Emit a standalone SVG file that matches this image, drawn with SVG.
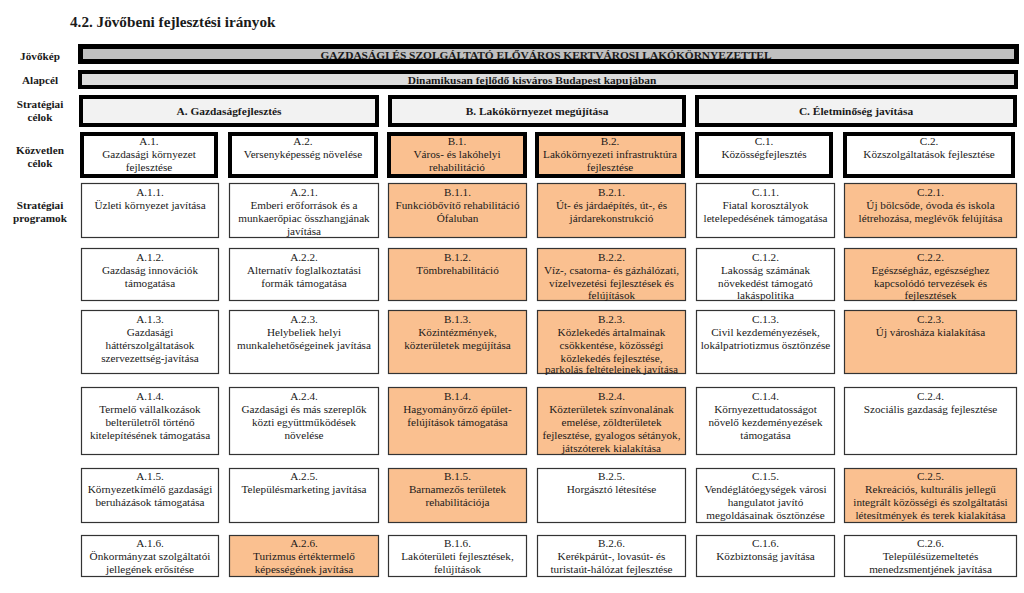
<svg xmlns="http://www.w3.org/2000/svg" width="1024" height="593" viewBox="0 0 1024 593" font-family="'Liberation Serif', 'DejaVu Serif', serif">
<style>
text{font-family:'Liberation Serif','DejaVu Serif',serif;fill:#1a1a1a;text-anchor:middle}
.title{font-size:15.2px;font-weight:bold;text-anchor:start}
.lbl{font-size:11.2px;font-weight:bold}
.hb{font-size:11.4px;font-weight:bold}
.t{font-size:11.2px}
.vis{fill:#c0c0c0;stroke:#000;stroke-width:5}
.alap{fill:#dcdcdc;stroke:#000;stroke-width:4}
.sc{fill:#f2f2f2;stroke:#000;stroke-width:4}
.kc{fill:#fff;stroke:#000;stroke-width:4}
.kc.o{fill:#fac090}
.p{fill:#fff;stroke:#333;stroke-width:1.2}
.p.o{fill:#fac090}
</style>
<rect width="1024" height="593" fill="#fff"/>
<text class="title" x="70" y="27">4.2. Jövőbeni fejlesztési irányok</text>
<g id="row-labels">
<text class="lbl" x="40" y="60">Jövőkép</text>
<text class="lbl" x="40" y="84">Alapcél</text>
<text class="lbl" x="40" y="108">Stratégiai</text><text class="lbl" x="40" y="121">célok</text>
<text class="lbl" x="40" y="154">Közvetlen</text><text class="lbl" x="40" y="167">célok</text>
<text class="lbl" x="40" y="209">Stratégiai</text><text class="lbl" x="40" y="222">programok</text>
</g>
<g id="jovokep"><rect class="vis" x="80.5" y="46.5" width="936" height="15"/><text class="hb" x="546" y="58.5">GAZDASÁGI ÉS SZOLGÁLTATÓ ELŐVÁROS KERTVÁROSI LAKÓKÖRNYEZETTEL</text></g>
<g id="alapcel"><rect class="alap" x="80" y="72" width="936" height="15"/><text class="hb" x="532" y="83.5">Dinamikusan fejlődő kisváros Budapest kapujában</text></g>
<g id="A"><rect class="sc" x="81" y="97" width="296" height="28"/><text class="hb" x="229" y="115">A. Gazdaságfejlesztés</text></g>
<g id="B"><rect class="sc" x="390" y="97" width="294" height="28"/><text class="hb" x="537" y="115">B. Lakókörnyezet megújítása</text></g>
<g id="C"><rect class="sc" x="697" y="97" width="318" height="28"/><text class="hb" x="856" y="115">C. Életminőség javítása</text></g>

<g id="A1"><rect class="kc" x="82" y="134" width="134" height="42"/><text class="t" x="149" y="145">A.1.</text><text class="t" x="149" y="158">Gazdasági környezet</text><text class="t" x="149" y="171">fejlesztése</text></g>
<g id="A2"><rect class="kc" x="230" y="134" width="146" height="42"/><text class="t" x="303" y="145">A.2.</text><text class="t" x="303" y="158">Versenyképesség növelése</text></g>
<g id="B1"><rect class="kc o" x="389" y="134" width="136" height="42"/><text class="t" x="457" y="145">B.1.</text><text class="t" x="457" y="158">Város- és lakóhelyi</text><text class="t" x="457" y="171">rehabilitáció</text></g>
<g id="B2"><rect class="kc o" x="537" y="134" width="146" height="42"/><text class="t" x="610" y="145">B.2.</text><text class="t" x="610" y="158">Lakókörnyezeti infrastruktúra</text><text class="t" x="610" y="171">fejlesztése</text></g>
<g id="C1"><rect class="kc" x="697" y="134" width="134" height="42"/><text class="t" x="764" y="145">C.1.</text><text class="t" x="764" y="158">Közösségfejlesztés</text></g>
<g id="C2"><rect class="kc" x="845" y="134" width="168" height="42"/><text class="t" x="929" y="145">C.2.</text><text class="t" x="929" y="158">Közszolgáltatások fejlesztése</text></g>

<!-- row 1: y 183-237 -->
<g id="A11"><rect class="p" x="81.5" y="183.5" width="137" height="54"/><text class="t" x="150" y="195.5">A.1.1.</text><text class="t" x="150" y="208.5">Üzleti környezet javítása</text></g>
<g id="A21"><rect class="p" x="229.5" y="183.5" width="149" height="54"/><text class="t" x="304" y="195.5">A.2.1.</text><text class="t" x="304" y="208.5">Emberi erőforrások és a</text><text class="t" x="304" y="221.5">munkaerőpiac összhangjának</text><text class="t" x="304" y="234.5">javítása</text></g>
<g id="B11"><rect class="p o" x="388.5" y="183.5" width="138" height="54"/><text class="t" x="457.5" y="195.5">B.1.1.</text><text class="t" x="457.5" y="208.5">Funkcióbővítő rehabilitáció</text><text class="t" x="457.5" y="221.5">Ófaluban</text></g>
<g id="B21"><rect class="p o" x="537.5" y="183.5" width="148" height="54"/><text class="t" x="611.5" y="195.5">B.2.1.</text><text class="t" x="611.5" y="208.5">Út- és járdaépítés, út-, és</text><text class="t" x="611.5" y="221.5">járdarekonstrukció</text></g>
<g id="C11"><rect class="p" x="696.5" y="183.5" width="138" height="54"/><text class="t" x="765.5" y="195.5">C.1.1.</text><text class="t" x="765.5" y="208.5">Fiatal korosztályok</text><text class="t" x="765.5" y="221.5">letelepedésének támogatása</text></g>
<g id="C21"><rect class="p o" x="844.5" y="183.5" width="172" height="54"/><text class="t" x="930.5" y="195.5">C.2.1.</text><text class="t" x="930.5" y="208.5">Új bölcsőde, óvoda és iskola</text><text class="t" x="930.5" y="221.5">létrehozása, meglévők felújítása</text></g>

<!-- row 2: y 248-300 -->
<g id="A12"><rect class="p" x="81.5" y="248.5" width="137" height="52"/><text class="t" x="150" y="260.5">A.1.2.</text><text class="t" x="150" y="273.5">Gazdaság innovációk</text><text class="t" x="150" y="286.5">támogatása</text></g>
<g id="A22"><rect class="p" x="229.5" y="248.5" width="149" height="52"/><text class="t" x="304" y="260.5">A.2.2.</text><text class="t" x="304" y="273.5">Alternatív foglalkoztatási</text><text class="t" x="304" y="286.5">formák támogatása</text></g>
<g id="B12"><rect class="p o" x="388.5" y="248.5" width="138" height="52"/><text class="t" x="457.5" y="260.5">B.1.2.</text><text class="t" x="457.5" y="273.5">Tömbrehabilitáció</text></g>
<g id="B22"><rect class="p o" x="537.5" y="248.5" width="148" height="52"/><text class="t" x="611.5" y="260.5">B.2.2.</text><text class="t" x="611.5" y="273.5">Víz-, csatorna- és gázhálózati,</text><text class="t" x="611.5" y="286.5">vízelvezetési fejlesztések és</text><text class="t" x="611.5" y="299">felújítások</text></g>
<g id="C12"><rect class="p" x="696.5" y="248.5" width="138" height="52"/><text class="t" x="765.5" y="260.5">C.1.2.</text><text class="t" x="765.5" y="273.5">Lakosság számának</text><text class="t" x="765.5" y="286.5">növekedést támogató</text><text class="t" x="765.5" y="299">lakáspolitika</text></g>
<g id="C22"><rect class="p o" x="844.5" y="248.5" width="172" height="52"/><text class="t" x="930.5" y="260.5">C.2.2.</text><text class="t" x="930.5" y="273.5">Egészségház, egészséghez</text><text class="t" x="930.5" y="286.5">kapcsolódó tervezések és</text><text class="t" x="930.5" y="299">fejlesztések</text></g>

<!-- row 3: y 310-374 -->
<g id="A13"><rect class="p" x="81.5" y="310.5" width="137" height="63"/><text class="t" x="150" y="322.5">A.1.3.</text><text class="t" x="150" y="335.5">Gazdasági</text><text class="t" x="150" y="348.5">háttérszolgáltatások</text><text class="t" x="150" y="361.5">szervezettség-javítása</text></g>
<g id="A23"><rect class="p" x="229.5" y="310.5" width="149" height="63"/><text class="t" x="304" y="322.5">A.2.3.</text><text class="t" x="304" y="335.5">Helybeliek helyi</text><text class="t" x="304" y="348.5">munkalehetőségeinek javítása</text></g>
<g id="B13"><rect class="p o" x="388.5" y="310.5" width="138" height="63"/><text class="t" x="457.5" y="322.5">B.1.3.</text><text class="t" x="457.5" y="335.5">Közintézmények,</text><text class="t" x="457.5" y="348.5">közterületek megújítása</text></g>
<g id="B23"><rect class="p o" x="537.5" y="310.5" width="148" height="63"/><text class="t" x="611.5" y="322.5">B.2.3.</text><text class="t" x="611.5" y="335.5">Közlekedés ártalmainak</text><text class="t" x="611.5" y="348.5">csökkentése, közösségi</text><text class="t" x="611.5" y="361.5">közlekedés fejlesztése,</text><text class="t" x="611.5" y="373">parkolás feltételeinek javítása</text></g>
<g id="C13"><rect class="p" x="696.5" y="310.5" width="138" height="63"/><text class="t" x="765.5" y="322.5">C.1.3.</text><text class="t" x="765.5" y="335.5">Civil kezdeményezések,</text><text class="t" x="765.5" y="348.5">lokálpatriotizmus ösztönzése</text></g>
<g id="C23"><rect class="p o" x="844.5" y="310.5" width="172" height="63"/><text class="t" x="930.5" y="322.5">C.2.3.</text><text class="t" x="930.5" y="335.5">Új városháza kialakítása</text></g>

<!-- row 4: y 387-454 -->
<g id="A14"><rect class="p" x="81.5" y="387.5" width="137" height="67"/><text class="t" x="150" y="399.5">A.1.4.</text><text class="t" x="150" y="412.5">Termelő vállalkozások</text><text class="t" x="150" y="425.5">belterületről történő</text><text class="t" x="150" y="438.5">kitelepítésének támogatása</text></g>
<g id="A24"><rect class="p" x="229.5" y="387.5" width="149" height="67"/><text class="t" x="304" y="399.5">A.2.4.</text><text class="t" x="304" y="412.5">Gazdasági és más szereplők</text><text class="t" x="304" y="425.5">közti együttműködések</text><text class="t" x="304" y="438.5">növelése</text></g>
<g id="B14"><rect class="p o" x="388.5" y="387.5" width="138" height="67"/><text class="t" x="457.5" y="399.5">B.1.4.</text><text class="t" x="457.5" y="412.5">Hagyományőrző épület-</text><text class="t" x="457.5" y="425.5">felújítások támogatása</text></g>
<g id="B24"><rect class="p o" x="537.5" y="387.5" width="148" height="67"/><text class="t" x="611.5" y="399.5">B.2.4.</text><text class="t" x="611.5" y="412.5">Közterületek színvonalának</text><text class="t" x="611.5" y="425.5">emelése, zöldterületek</text><text class="t" x="611.5" y="438.5">fejlesztése, gyalogos sétányok,</text><text class="t" x="611.5" y="451.5">játszóterek kialakítása</text></g>
<g id="C14"><rect class="p" x="696.5" y="387.5" width="138" height="67"/><text class="t" x="765.5" y="399.5">C.1.4.</text><text class="t" x="765.5" y="412.5">Környezettudatosságot</text><text class="t" x="765.5" y="425.5">növelő kezdeményezések</text><text class="t" x="765.5" y="438.5">támogatása</text></g>
<g id="C24"><rect class="p" x="844.5" y="387.5" width="172" height="67"/><text class="t" x="930.5" y="399.5">C.2.4.</text><text class="t" x="930.5" y="412.5">Szociális gazdaság fejlesztése</text></g>

<!-- row 5: y 468-522 -->
<g id="A15"><rect class="p" x="81.5" y="468.5" width="137" height="54"/><text class="t" x="150" y="480">A.1.5.</text><text class="t" x="150" y="493">Környezetkímélő gazdasági</text><text class="t" x="150" y="506">beruházások támogatása</text></g>
<g id="A25"><rect class="p" x="229.5" y="468.5" width="149" height="54"/><text class="t" x="304" y="480">A.2.5.</text><text class="t" x="304" y="493">Településmarketing javítása</text></g>
<g id="B15"><rect class="p o" x="388.5" y="468.5" width="138" height="54"/><text class="t" x="457.5" y="480">B.1.5.</text><text class="t" x="457.5" y="493">Barnamezős területek</text><text class="t" x="457.5" y="506">rehabilitációja</text></g>
<g id="B25"><rect class="p" x="537.5" y="468.5" width="148" height="54"/><text class="t" x="611.5" y="480">B.2.5.</text><text class="t" x="611.5" y="493">Horgásztó létesítése</text></g>
<g id="C15"><rect class="p" x="696.5" y="468.5" width="138" height="54"/><text class="t" x="765.5" y="480">C.1.5.</text><text class="t" x="765.5" y="493">Vendéglátóegységek városi</text><text class="t" x="765.5" y="506">hangulatot javító</text><text class="t" x="765.5" y="519">megoldásainak ösztönzése</text></g>
<g id="C25"><rect class="p o" x="844.5" y="468.5" width="172" height="54"/><text class="t" x="930.5" y="480">C.2.5.</text><text class="t" x="930.5" y="493">Rekreációs, kulturális jellegű</text><text class="t" x="930.5" y="506">integrált közösségi és szolgáltatási</text><text class="t" x="930.5" y="519">létesítmények és terek kialakítása</text></g>

<!-- row 6: y 535-576 -->
<g id="A16"><rect class="p" x="81.5" y="535.5" width="137" height="41"/><text class="t" x="150" y="547">A.1.6.</text><text class="t" x="150" y="560">Önkormányzat szolgáltatói</text><text class="t" x="150" y="573">jellegének erősítése</text></g>
<g id="A26"><rect class="p o" x="229.5" y="535.5" width="149" height="41"/><text class="t" x="304" y="547">A.2.6.</text><text class="t" x="304" y="560">Turizmus értéktermelő</text><text class="t" x="304" y="573">képességének javítása</text></g>
<g id="B16"><rect class="p" x="388.5" y="535.5" width="138" height="41"/><text class="t" x="457.5" y="547">B.1.6.</text><text class="t" x="457.5" y="560">Lakóterületi fejlesztések,</text><text class="t" x="457.5" y="573">felújítások</text></g>
<g id="B26"><rect class="p" x="537.5" y="535.5" width="148" height="41"/><text class="t" x="611.5" y="547">B.2.6.</text><text class="t" x="611.5" y="560">Kerékpárút-, lovasút- és</text><text class="t" x="611.5" y="573">turistaút-hálózat fejlesztése</text></g>
<g id="C16"><rect class="p" x="696.5" y="535.5" width="138" height="41"/><text class="t" x="765.5" y="547">C.1.6.</text><text class="t" x="765.5" y="560">Közbiztonság javítása</text></g>
<g id="C26"><rect class="p" x="844.5" y="535.5" width="172" height="41"/><text class="t" x="930.5" y="547">C.2.6.</text><text class="t" x="930.5" y="560">Településüzemeltetés</text><text class="t" x="930.5" y="573">menedzsmentjének javítása</text></g>

<g id="connectors"/>
</svg>
